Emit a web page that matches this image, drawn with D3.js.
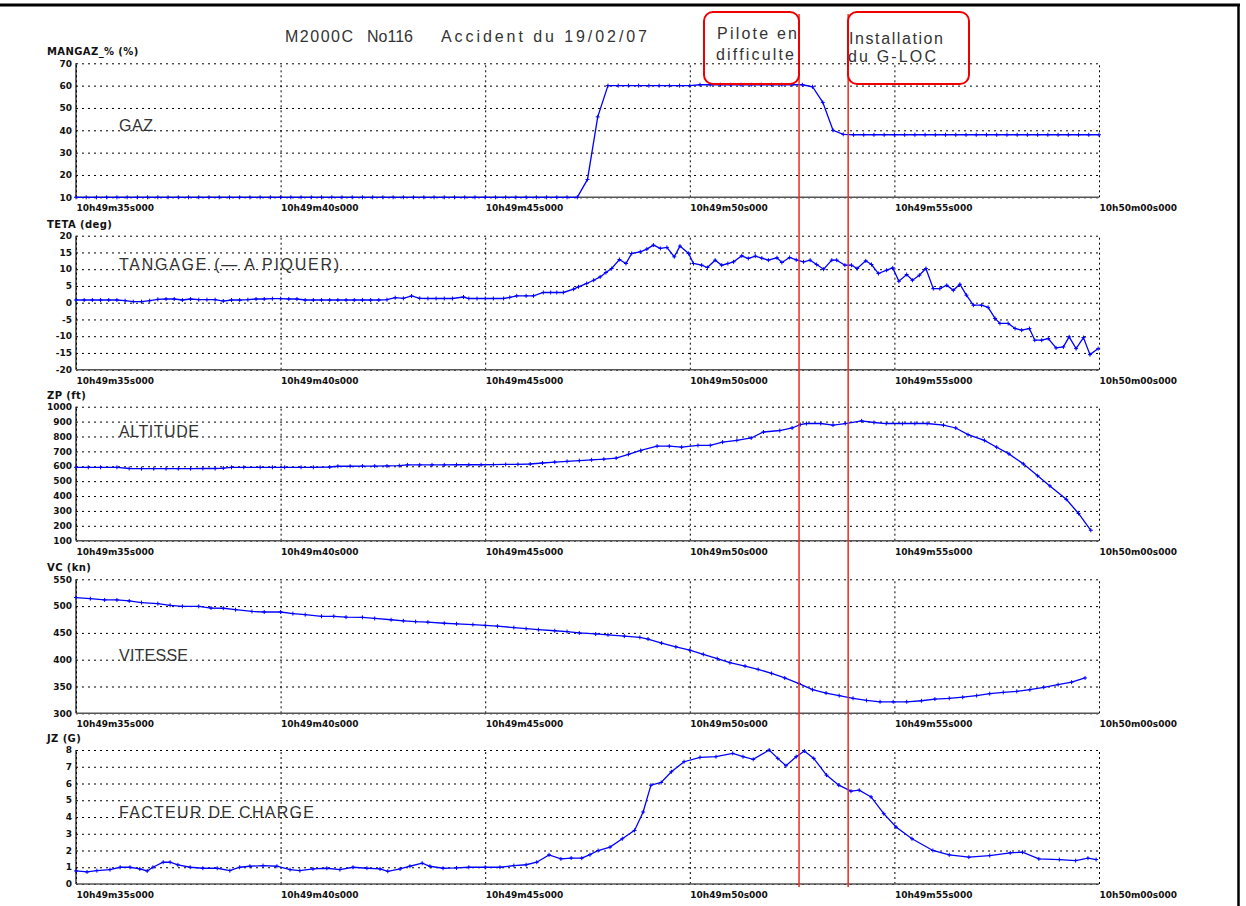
<!DOCTYPE html>
<html>
<head>
<meta charset="utf-8">
<script src="https://cdn.jsdelivr.net/npm/d3@7"></script>
<style>
body{margin:0;background:#fff;}
svg text{font-family:"DejaVu Sans",sans-serif;fill:#111;}
.big{font-family:"Liberation Sans",Arial,sans-serif !important;font-size:16px;fill:#333 !important;}
</style>
</head>
<body>
<svg id="chart" width="1246" height="906"></svg>
<script>
// time axis, seconds after 10h49m00s
var xTicks = [35, 40, 45, 50, 55, 60];

// GAZ (MANGAZ_%), sampled every 0.25 s from 35 s
var gazStart = 35, gazStep = 0.25;
var gazValues = [10,10,10,10,10,10,10,10,10,10,
  10,10,10,10,10,10,10,10,10,10,
  10,10,10,10,10,10,10,10,10,10,
  10,10,10,10,10,10,10,10,10,10,
  10,10,10,10,10,10,10,10,10,10,
  18,46,60,60,60,60,60,60,60,60,
  60,60.4,60.4,60.4,60.4,60.4,60.4,60.4,60.4,60.4,
  60.4,60.4,59.5,52.5,40,38.2,38,38,38,38,
  38,38,38,38,38,38,38,38,38,38,
  38,38,38,38,38,38,38,38,38,38,
  38];

// TETA (deg)
var tetaTimes = [35,35.2,35.4,35.6,35.8,36,36.2,36.4,36.6,36.8,
  37,37.2,37.4,37.6,37.8,38,38.2,38.4,38.6,38.8,
  39,39.2,39.4,39.6,39.8,40,40.2,40.4,40.6,40.8,
  41,41.2,41.4,41.6,41.8,42,42.2,42.4,42.6,42.8,
  43,43.2,43.4,43.6,43.8,44,44.2,44.47,44.6,44.8,
  45,45.2,45.45,45.6,45.77,46,46.18,46.42,46.6,46.75,
  46.91,47.16,47.28,47.48,47.65,47.81,47.95,48.09,48.28,48.44,
  48.58,48.79,48.95,49.11,49.28,49.44,49.62,49.76,49.97,50.09,
  50.29,50.43,50.62,50.78,50.93,51.07,51.27,51.43,51.6,51.76,
  51.92,52.13,52.25,52.44,52.6,52.78,52.94,53.1,53.27,53.47,
  53.59,53.79,53.95,54.09,54.3,54.44,54.61,54.81,54.96,55.11,
  55.3,55.44,55.61,55.77,55.95,56.11,56.28,56.44,56.6,56.76,
  56.93,57.13,57.29,57.46,57.58,57.78,57.95,58.11,58.3,58.43,
  58.6,58.76,58.95,59.13,59.27,59.44,59.62,59.78,59.98];
var tetaValues = [0.8,0.8,0.8,0.8,0.8,0.8,0.6,0.3,0.3,0.6,
  1.0,1.1,1.1,0.8,1.1,0.9,0.9,0.9,0.5,0.8,
  0.8,0.9,1.1,1.1,1.2,1.2,1.1,1.1,0.8,0.8,
  0.8,0.8,0.8,0.8,0.8,0.8,0.8,0.8,0.9,1.5,
  1.3,2.0,1.3,1.25,1.25,1.25,1.25,1.7,1.25,1.25,
  1.25,1.25,1.25,1.6,2.05,2.05,2.05,3.05,3.05,3.05,
  3.05,4.04,4.74,5.74,6.7,7.7,9.0,10.2,12.9,11.7,
  14.7,15.2,16.0,17.2,16.2,16.5,13.7,16.9,14.7,11.7,
  11.2,10.5,12.7,11.2,11.7,12.2,14.0,13.2,13.9,13.3,
  12.7,13.4,12.0,13.5,12.8,12.2,12.7,11.4,10.0,12.7,
  12.7,11.2,11.2,10.2,12.5,11.4,8.7,9.7,10.4,6.4,
  8.4,6.7,8.2,10.2,4.2,4.2,5.2,3.7,5.5,2.25,
  -0.75,-0.75,-1.4,-4.7,-6.2,-6.2,-7.7,-8.2,-7.7,-11.2,
  -11.2,-10.7,-13.5,-13.2,-10.2,-13.7,-10.4,-15.5,-13.7];

// ZP (ft)
var zpTimes = [35,35.3,35.6,36,36.3,36.6,36.9,37.2,37.5,37.8,
  38.1,38.4,38.6,38.8,39.1,39.5,39.8,40.1,40.5,40.8,
  41.2,41.4,41.7,42,42.3,42.6,42.9,43.1,43.4,43.7,
  44,44.3,44.6,44.9,45.2,45.5,45.8,46.1,46.4,46.7,
  47,47.3,47.6,47.9,48.2,48.5,48.8,49.2,49.5,49.8,
  50.2,50.5,50.8,51.15,51.5,51.8,52.2,52.5,52.7,52.85,
  53.2,53.5,53.8,54.2,54.5,54.8,55.2,55.5,55.8,56.2,
  56.5,56.8,57.2,57.5,57.8,58.15,58.5,58.8,59.2,59.5,
  59.8];
var zpValues = [593,593,593,593,585,584,584,584,584,584,
  585,585,588,593,593,593,593,593,593,593,
  595,600,600,601,601,602,604,609,609,609,
  609,610,610,610,611,612,613,615,622,628,
  633,638,643,648,655,680,706,735,735,728,
  740,740,762,774,790,830,840,857,880,887,
  887,876,887,905,894,887,887,887,887,876,
  857,812,774,728,683,616,536,468,378,283,
  170];

// VC (kn)
var vcTimes = [35,35.35,35.7,36,36.3,36.6,37,37.3,37.6,38,
  38.3,38.6,38.9,39.3,39.6,40,40.3,40.6,41,41.3,
  41.6,42,42.3,42.7,43,43.3,43.6,44,44.3,44.7,
  45,45.3,45.7,46,46.3,46.7,47,47.3,47.7,48,
  48.4,48.78,48.98,49.31,49.66,50,50.33,50.67,50.98,51.35,
  51.67,52,52.32,52.67,53,53.33,53.65,53.99,54.32,54.65,
  54.97,55.3,55.66,55.99,56.34,56.67,57.01,57.33,57.66,57.99,
  58.31,58.65,59,59.33,59.66];
var vcValues = [516,514,511.5,511.5,509.6,506.6,504.7,501.5,499.6,499.6,
  496.4,496,493.3,490,489,489,486,484,481,481,
  479.4,479,477,474.5,472.6,471,470,468,467,465.5,
  464,462.5,460,458,456,454,452.5,450,448,446.5,
  444,441.6,438.6,431,424,417.8,410,402,394.4,388,
  382,374.4,366,355.5,344,337.8,333,328,324,321.5,
  321.5,321.5,323.4,326.5,328,330,333,336.6,339,341,
  344,348.5,353.6,358,366];

// JZ (G)
var jzTimes = [35,35.27,35.51,35.83,36.08,36.32,36.56,36.74,36.88,37.13,
  37.3,37.49,37.79,38.1,38.45,38.76,39,39.25,39.57,39.91,
  40.23,40.47,40.79,41.13,41.45,41.77,42.11,42.43,42.62,42.92,
  43.16,43.46,43.65,43.97,44.3,44.6,45,45.36,45.7,46,
  46.26,46.56,46.85,47.1,47.36,47.56,47.76,48.05,48.35,48.65,
  48.86,49.05,49.3,49.55,49.86,50.25,50.64,51.05,51.3,51.55,
  51.94,52.15,52.35,52.6,52.8,53.03,53.34,53.64,53.94,54.14,
  54.43,54.74,55.04,55.43,55.94,56.34,56.82,57.33,57.83,58.13,
  58.53,59.03,59.43,59.73,59.93];
var jzValues = [0.78,0.72,0.8,0.86,1.0,1.0,0.9,0.78,1.0,1.3,
  1.3,1.14,1.0,0.94,0.94,0.8,1.0,1.06,1.1,1.06,
  0.86,0.8,0.9,0.94,0.86,1.0,0.94,0.9,0.76,0.9,
  1.06,1.24,1.06,0.94,0.96,1.0,1.0,1.0,1.1,1.15,
  1.3,1.74,1.5,1.55,1.54,1.75,2.0,2.2,2.7,3.2,
  4.3,5.9,6.06,6.7,7.3,7.56,7.6,7.8,7.6,7.44,
  8.0,7.5,7.06,7.6,7.94,7.5,6.5,5.9,5.54,5.6,
  5.2,4.2,3.4,2.7,2.0,1.74,1.6,1.7,1.86,1.9,
  1.5,1.46,1.4,1.54,1.46];

// panel texts and y ticks
var axisTitles = ["MANGAZ_% (%)", "TETA (deg)", "ZP (ft)", "VC (kn)", "JZ (G)"];
var panelNames = ["GAZ", "TANGAGE (\u2014 A PIQUER)", "ALTITUDE", "VITESSE", "FACTEUR DE CHARGE"];
var nameLevels = [40, 10, 800, 400, 4];
var gazTicks = [10,20,30,40,50,60,70];
var tetaTicks = [-20,-15,-10,-5,0,5,10,15,20];
var zpTicks = [100,200,300,400,500,600,700,800,900,1000];
var vcTicks = [300,350,400,450,500,550];
var jzTicks = [0,1,2,3,4,5,6,7,8];

// events (red lines)
var eventTimes = [52.67, 53.87];

var gazTimes = gazValues.map(function(d, i){ return gazStart + i*gazStep; });
var zip = function(t, v){ return t.map(function(d, i){ return [d, v[i]]; }); };

var panels = [
  {ticks: gazTicks, data: zip(gazTimes, gazValues), nameW: 34},
  {ticks: tetaTicks, data: zip(tetaTimes, tetaValues), nameW: 220},
  {ticks: zpTicks, data: zip(zpTimes, zpValues), nameW: 80},
  {ticks: vcTicks, data: zip(vcTimes, vcValues), nameW: 69},
  {ticks: jzTicks, data: zip(jzTimes, jzValues), nameW: 195}
];

var svg = d3.select("#chart");
var plotLeft = 76, plotRight = 1099;
var panelTops = [63.3, 235.7, 406.7, 579.3, 750];
var panelHeight = 134;

var x = d3.scaleLinear().domain([35, 60]).range([plotLeft, plotRight]);

function pad(n){ return (n < 10 ? "0" : "") + n; }
function fmtTime(s){
  var m = 49 + Math.floor(s/60);
  return "10h" + pad(m) + "m" + pad(s % 60) + "s000";
}

// page frame
svg.append("line").attr("x1", 0).attr("x2", 1240).attr("y1", 5).attr("y2", 5)
  .attr("stroke", "#000").attr("stroke-width", 3);
svg.append("line").attr("x1", 1238.5).attr("x2", 1238.5).attr("y1", 4).attr("y2", 906)
  .attr("stroke", "#000").attr("stroke-width", 2.5);

panels.forEach(function(p, i){
  var top = panelTops[i], bottom = top + panelHeight;
  var y = d3.scaleLinear().domain(d3.extent(p.ticks)).range([bottom, top]);
  var g = svg.append("g");

  // horizontal grid + y labels
  var ya = g.append("g").attr("transform", "translate(" + plotLeft + ",0)")
    .call(d3.axisLeft(y).tickValues(p.ticks).tickSize(-(plotRight - plotLeft)).tickPadding(4)
      .tickFormat(function(d){ return String(d); }));
  ya.select(".domain").remove();
  ya.selectAll("line").attr("stroke", "#000").attr("stroke-dasharray", "2,4");
  ya.selectAll("text").attr("font-size", 9).attr("font-weight", "bold").attr("dy", "0.3em")
    .style("font-family", "DejaVu Sans");

  // vertical grid + time labels
  var xa = g.append("g").attr("transform", "translate(0," + bottom + ")")
    .call(d3.axisBottom(x).tickValues(xTicks).tickSize(-panelHeight).tickFormat(fmtTime));
  xa.select(".domain").remove();
  xa.selectAll("line").attr("stroke", "#000").attr("stroke-dasharray", "2,3");
  xa.selectAll("text").attr("text-anchor", "start").attr("y", 14).attr("dy", null)
    .attr("font-size", 9).attr("font-weight", "bold").style("font-family", "DejaVu Sans");

  // solid axes
  g.append("line").attr("x1", plotLeft).attr("x2", plotLeft).attr("y1", top).attr("y2", bottom)
    .attr("stroke", "#000").attr("stroke-width", 1.2);
  g.append("line").attr("x1", plotLeft).attr("x2", plotRight).attr("y1", bottom).attr("y2", bottom)
    .attr("stroke", "#555").attr("stroke-width", 1.5);

  // axis title
  g.append("text").attr("x", 47).attr("y", top - 8).attr("font-size", 10)
    .attr("font-weight", "bold").attr("letter-spacing", 0.4).text(axisTitles[i]);

  // panel name
  g.append("text").attr("class", "big").attr("x", 119).attr("y", y(nameLevels[i]) + 1)
    .attr("textLength", p.nameW).attr("lengthAdjust", "spacing").text(panelNames[i]);

  // curve
  var line = d3.line().x(function(d){ return x(d[0]); }).y(function(d){ return y(d[1]); });
  g.append("path").datum(p.data).attr("d", line).attr("fill", "none")
    .attr("stroke", "#0000ff").attr("stroke-width", 1.3);
  g.selectAll("path.mk").data(p.data).join("path").attr("class", "mk")
    .attr("transform", function(d){ return "translate(" + x(d[0]) + "," + y(d[1]) + ")"; })
    .attr("d", "M-2,0H2M0,-2V2").attr("stroke", "#0000ff").attr("stroke-width", 1);
});

// title
var title = svg.append("g");
title.append("text").attr("class", "big").attr("x", 285).attr("y", 42)
  .attr("textLength", 68).attr("lengthAdjust", "spacing").text("M2000C");
title.append("text").attr("class", "big").attr("x", 367).attr("y", 42)
  .attr("textLength", 46).attr("lengthAdjust", "spacing").text("No116");
title.append("text").attr("class", "big").attr("x", 441).attr("y", 42)
  .attr("textLength", 206).attr("lengthAdjust", "spacing").text("Accident du 19/02/07");

// event lines and boxes
eventTimes.forEach(function(t){
  svg.append("line").attr("x1", x(t)).attr("x2", x(t)).attr("y1", 14).attr("y2", 887)
    .attr("stroke", "#ee2a22").attr("stroke-width", 1.5);
});
var boxes = svg.append("g");
boxes.append("rect").attr("x", 704).attr("y", 12).attr("width", 95).attr("height", 72)
  .attr("rx", 9).attr("fill", "none").attr("stroke", "#e00").attr("stroke-width", 2);
boxes.append("rect").attr("x", 848).attr("y", 12).attr("width", 121).attr("height", 72)
  .attr("rx", 9).attr("fill", "none").attr("stroke", "#e00").attr("stroke-width", 2);
boxes.append("text").attr("class", "big").attr("x", 717).attr("y", 39)
  .attr("textLength", 80).attr("lengthAdjust", "spacing").text("Pilote en");
boxes.append("text").attr("class", "big").attr("x", 716).attr("y", 60)
  .attr("textLength", 78).attr("lengthAdjust", "spacing").text("difficulte");
boxes.append("text").attr("class", "big").attr("x", 849).attr("y", 44)
  .attr("textLength", 94).attr("lengthAdjust", "spacing").text("Installation");
boxes.append("text").attr("class", "big").attr("x", 848).attr("y", 62)
  .attr("textLength", 88).attr("lengthAdjust", "spacing").text("du G-LOC");
</script>
</body>
</html>
